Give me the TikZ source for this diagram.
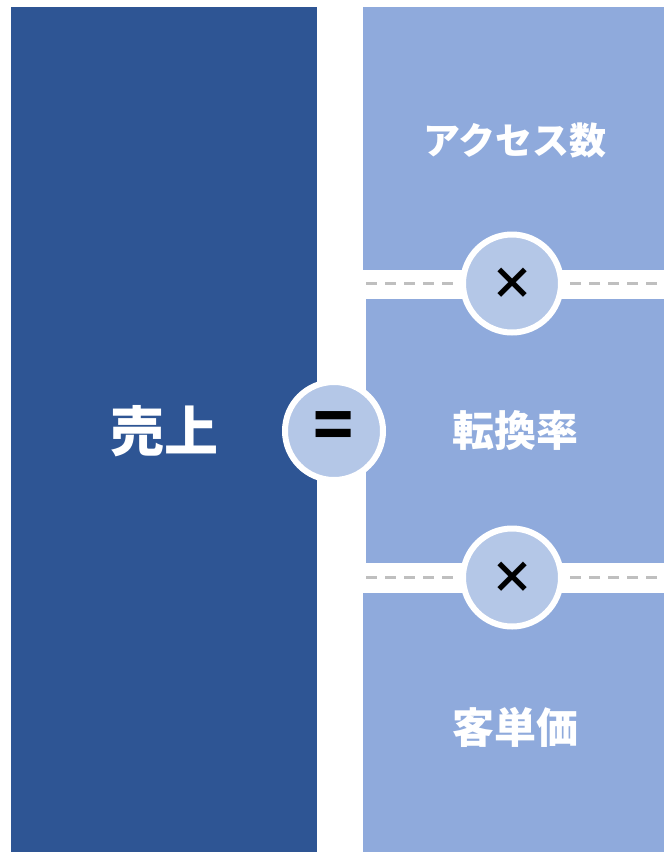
\documentclass[tikz,border=0pt]{standalone}
\usepackage{fontspec}
\newfontfamily\jpfont{Noto Sans CJK JP}
\usetikzlibrary{positioning}
\definecolor{salesblue}{HTML}{2E5594}
\definecolor{factorblue}{HTML}{8FAADC}
\definecolor{opblue}{HTML}{B4C7E7}
\definecolor{dashgray}{HTML}{BFBFBF}

\begin{document}
\begin{tikzpicture}[x=1pt,y=-1pt,
    block/.style={inner sep=0pt},
    blocktext/.style={inner sep=0pt, text=white, font=\jpfont\bfseries\fontsize{42}{42}\selectfont},
    separator/.style={dashgray, line width=3pt, dash pattern=on 11pt off 8pt},
    opcircle/.style={draw=white, line width=6pt, fill=opblue, circle, inner sep=0pt, minimum size=98pt, font=\jpfont\bfseries\fontsize{44}{44}\selectfont}]
    \useasboundingbox (0,0) rectangle (664,852);
    % left side
    \node (sales) [block, fill=salesblue, minimum width=306pt, minimum height=845pt] at (164,429.5) {};
    \node (salestext) [blocktext, font=\jpfont\bfseries\fontsize{54}{54}\selectfont] at (164.5,431) {売上};
    % right side
    \node (access) [block, fill=factorblue, minimum width=301pt, minimum height=263pt] at (513.5,138.5) {};
    \node (conv) [block, fill=factorblue, minimum width=298pt, minimum height=264pt] at (515,431) {};
    \node (price) [block, fill=factorblue, minimum width=301pt, minimum height=259pt] at (513.5,722.5) {};
    \node (accesstext) [blocktext, font=\jpfont\bfseries\fontsize{37}{37}\selectfont] at (515,140) {アクセス数};
    \node (convtext) [blocktext] at (515.5,430.5) {転換率};
    \node (pricetext) [blocktext] at (515.5,727) {客単価};

    % operators
    \coordinate (times1pos) at (512,283.5);
    \coordinate (times2pos) at (512,577.5);

    % dashed separators
    \coordinate (sepA) at (366,283.5);
    \coordinate (sepB) at (657,283.5);
    \coordinate (sepC) at (366,577.5);
    \coordinate (sepD) at (657,577.5);
    \draw [separator] (sepA) -- (times1pos);
    \draw [separator] (sepB) -- (times1pos);
    \draw [separator] (sepC) -- (times2pos);
    \draw [separator] (sepD) -- (times2pos);

    \node (times1) [opcircle] at (times1pos) {×};
    \node (times2) [opcircle] at (times2pos) {×};
    \node (equals) [opcircle, font=\jpfont\bfseries\fontsize{66}{66}\selectfont] at (334,431) {=};
\end{tikzpicture}
\end{document}
